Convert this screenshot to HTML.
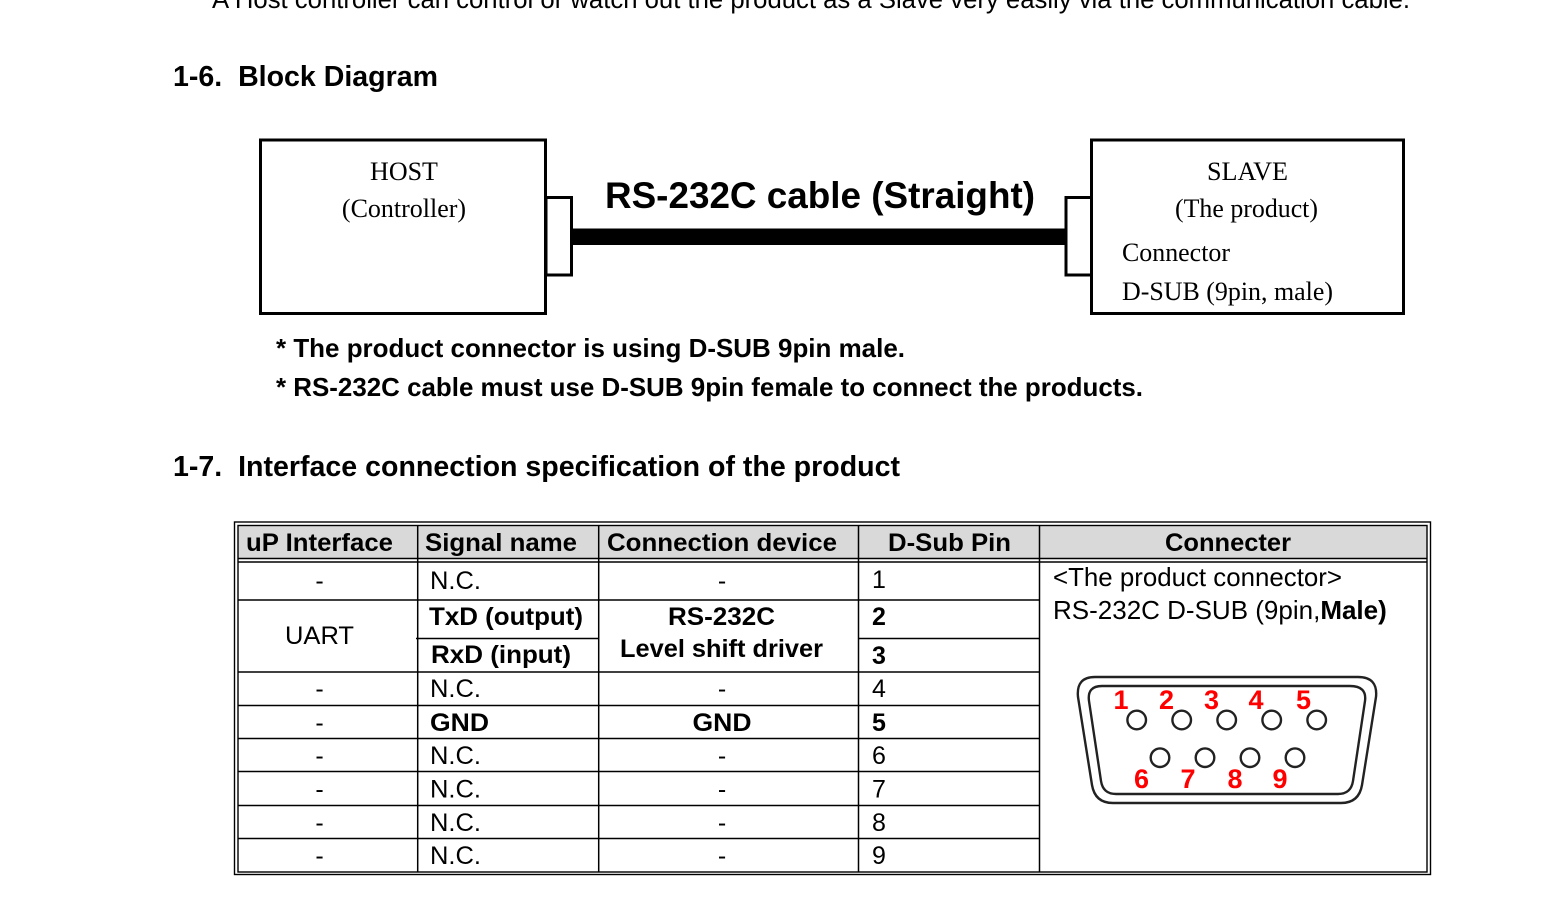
<!DOCTYPE html>
<html>
<head>
<meta charset="utf-8">
<style>
  html, body { margin:0; padding:0; background:#fff; }
  svg { display:block; }
  .sans { font-family: "Liberation Sans", Arial, sans-serif; }
  .serif { font-family: "Liberation Serif", "Times New Roman", serif; }
</style>
</head>
<body>
<svg width="1557" height="912" viewBox="0 0 1557 912" xmlns="http://www.w3.org/2000/svg">
  <rect x="0" y="0" width="1557" height="912" fill="#fff"/>

  <!-- top cut-off line -->
  <text class="sans" x="212" y="8" font-size="26" textLength="1198" lengthAdjust="spacingAndGlyphs">A Host controller can control or watch out the product as a Slave very easily via the communication cable.</text>

  <!-- Heading 1-6 -->
  <text class="sans" x="173" y="86" font-size="29" font-weight="bold" textLength="265" lengthAdjust="spacingAndGlyphs" xml:space="preserve">1-6.  Block Diagram</text>

  <!-- Block diagram -->
  <rect x="260.5" y="140" width="285" height="173.5" fill="#fff" stroke="#000" stroke-width="3"/>
  <rect x="546" y="197.5" width="25.5" height="77.5" fill="#fff" stroke="#000" stroke-width="3"/>
  <rect x="572" y="228.5" width="494" height="16.5" fill="#000"/>
  <rect x="1066" y="197.5" width="25.5" height="77.5" fill="#fff" stroke="#000" stroke-width="3"/>
  <rect x="1091.5" y="140" width="312" height="173.5" fill="#fff" stroke="#000" stroke-width="3"/>

  <text class="serif" x="404" y="180" font-size="26" text-anchor="middle">HOST</text>
  <text class="serif" x="404" y="217" font-size="26" text-anchor="middle">(Controller)</text>

  <text class="sans" x="605" y="208" font-size="37" font-weight="bold" textLength="430" lengthAdjust="spacingAndGlyphs">RS-232C cable (Straight)</text>

  <text class="serif" x="1207" y="180" font-size="26" textLength="81" lengthAdjust="spacingAndGlyphs">SLAVE</text>
  <text class="serif" x="1175" y="217" font-size="26" textLength="143" lengthAdjust="spacingAndGlyphs">(The product)</text>
  <text class="serif" x="1122" y="261" font-size="26" textLength="108" lengthAdjust="spacingAndGlyphs">Connector</text>
  <text class="serif" x="1122" y="300" font-size="26" textLength="211" lengthAdjust="spacingAndGlyphs">D-SUB (9pin, male)</text>

  <!-- Notes -->
  <text class="sans" x="276" y="357" font-size="26" font-weight="bold" textLength="629" lengthAdjust="spacingAndGlyphs">* The product connector is using D-SUB 9pin male.</text>
  <text class="sans" x="276" y="396" font-size="26" font-weight="bold" textLength="867" lengthAdjust="spacingAndGlyphs">* RS-232C cable must use D-SUB 9pin female to connect the products.</text>

  <!-- Heading 1-7 -->
  <text class="sans" x="173" y="476" font-size="29" font-weight="bold" textLength="727" lengthAdjust="spacingAndGlyphs" xml:space="preserve">1-7.  Interface connection specification of the product</text>

  <!-- Table -->
  <rect x="238" y="525.5" width="1189" height="32.5" fill="#d9d9d9"/>
  <rect x="234.5" y="522" width="1196" height="352.5" fill="none" stroke="#000" stroke-width="1.4"/>
  <rect x="238" y="525.5" width="1189" height="346.5" fill="none" stroke="#000" stroke-width="1.4"/>
  <g stroke="#000" stroke-width="1.5">
    <line x1="238" y1="558.5" x2="1427" y2="558.5"/>
    <line x1="238" y1="562" x2="1427" y2="562"/>
    <line x1="417.7" y1="525.5" x2="417.7" y2="872"/>
    <line x1="598.7" y1="525.5" x2="598.7" y2="872"/>
    <line x1="858.5" y1="525.5" x2="858.5" y2="872"/>
    <line x1="1039.5" y1="525.5" x2="1039.5" y2="872"/>
    <line x1="238" y1="600" x2="1039.5" y2="600"/>
    <line x1="416" y1="638.5" x2="598.7" y2="638.5"/>
    <line x1="858.5" y1="638.5" x2="1039.5" y2="638.5"/>
    <line x1="238" y1="672" x2="1039.5" y2="672"/>
    <line x1="238" y1="705.5" x2="1039.5" y2="705.5"/>
    <line x1="238" y1="738.5" x2="1039.5" y2="738.5"/>
    <line x1="238" y1="771.5" x2="1039.5" y2="771.5"/>
    <line x1="238" y1="805.5" x2="1039.5" y2="805.5"/>
    <line x1="238" y1="838.5" x2="1039.5" y2="838.5"/>
  </g>

  <!-- header text -->
  <g class="sans" font-size="25" font-weight="bold">
    <text x="246" y="551" textLength="147" lengthAdjust="spacingAndGlyphs">uP Interface</text>
    <text x="425" y="551" textLength="152" lengthAdjust="spacingAndGlyphs">Signal name</text>
    <text x="607" y="551" textLength="230" lengthAdjust="spacingAndGlyphs">Connection device</text>
    <text x="888" y="551" textLength="123" lengthAdjust="spacingAndGlyphs">D-Sub Pin</text>
    <text x="1165" y="551" textLength="126" lengthAdjust="spacingAndGlyphs">Connecter</text>
  </g>

  <!-- body text -->
  <g class="sans" font-size="25">
    <!-- row 1 -->
    <text x="319.5" y="589" text-anchor="middle">-</text>
    <text x="430" y="589" textLength="51" lengthAdjust="spacingAndGlyphs">N.C.</text>
    <text x="722" y="589" text-anchor="middle">-</text>
    <text x="872" y="588">1</text>

    <!-- UART -->
    <text x="285" y="644" textLength="69" lengthAdjust="spacingAndGlyphs">UART</text>
    <text x="429" y="625" font-weight="bold" textLength="154" lengthAdjust="spacingAndGlyphs">TxD (output)</text>
    <text x="431" y="663" font-weight="bold" textLength="140" lengthAdjust="spacingAndGlyphs">RxD (input)</text>
    <text x="721.5" y="625" font-weight="bold" text-anchor="middle" textLength="107" lengthAdjust="spacingAndGlyphs">RS-232C</text>
    <text x="620" y="657" font-weight="bold" textLength="203" lengthAdjust="spacingAndGlyphs">Level shift driver</text>
    <text x="872" y="625" font-weight="bold">2</text>
    <text x="872" y="664" font-weight="bold">3</text>

    <!-- row 4 -->
    <text x="319.5" y="697" text-anchor="middle">-</text>
    <text x="430" y="697" textLength="51" lengthAdjust="spacingAndGlyphs">N.C.</text>
    <text x="722" y="697" text-anchor="middle">-</text>
    <text x="872" y="697">4</text>

    <!-- row 5 -->
    <text x="319.5" y="731" text-anchor="middle">-</text>
    <text x="430" y="731" font-weight="bold" textLength="59" lengthAdjust="spacingAndGlyphs">GND</text>
    <text x="722" y="731" font-weight="bold" text-anchor="middle" textLength="59" lengthAdjust="spacingAndGlyphs">GND</text>
    <text x="872" y="731" font-weight="bold">5</text>

    <!-- row 6 -->
    <text x="319.5" y="764" text-anchor="middle">-</text>
    <text x="430" y="764" textLength="51" lengthAdjust="spacingAndGlyphs">N.C.</text>
    <text x="722" y="764" text-anchor="middle">-</text>
    <text x="872" y="764">6</text>

    <!-- row 7 -->
    <text x="319.5" y="797.5" text-anchor="middle">-</text>
    <text x="430" y="797.5" textLength="51" lengthAdjust="spacingAndGlyphs">N.C.</text>
    <text x="722" y="797.5" text-anchor="middle">-</text>
    <text x="872" y="797.5">7</text>

    <!-- row 8 -->
    <text x="319.5" y="831" text-anchor="middle">-</text>
    <text x="430" y="831" textLength="51" lengthAdjust="spacingAndGlyphs">N.C.</text>
    <text x="722" y="831" text-anchor="middle">-</text>
    <text x="872" y="831">8</text>

    <!-- row 9 -->
    <text x="319.5" y="864" text-anchor="middle">-</text>
    <text x="430" y="864" textLength="51" lengthAdjust="spacingAndGlyphs">N.C.</text>
    <text x="722" y="864" text-anchor="middle">-</text>
    <text x="872" y="864">9</text>
  </g>

  <!-- Connector column text -->
  <g class="sans" font-size="26">
    <text x="1053" y="586" textLength="289" lengthAdjust="spacingAndGlyphs">&lt;The product connector&gt;</text>
    <text x="1053" y="619">RS-232C D-SUB (9pin,<tspan font-weight="bold">Male)</tspan></text>
  </g>

  <!-- D-SUB drawing -->
  <g fill="none" stroke="#222" stroke-width="2.4">
    <path d="M 1095 677 L 1358 677 Q 1378 677 1376 697 L 1362 785 Q 1359 803 1341 803 L 1113 803 Q 1095 803 1092 785 L 1078 697 Q 1076 677 1095 677 Z"/>
    <path d="M 1102 686 L 1350 686 Q 1367 686 1365 701 L 1353 781 Q 1351 794 1338 794 L 1116 794 Q 1103 794 1101 781 L 1089 701 Q 1087 686 1102 686 Z"/>
    <circle cx="1136.7" cy="720" r="9.3"/>
    <circle cx="1181.7" cy="720" r="9.3"/>
    <circle cx="1226.7" cy="720" r="9.3"/>
    <circle cx="1271.7" cy="720" r="9.3"/>
    <circle cx="1316.7" cy="720" r="9.3"/>
    <circle cx="1160" cy="757.7" r="9.3"/>
    <circle cx="1205" cy="757.7" r="9.3"/>
    <circle cx="1250" cy="757.7" r="9.3"/>
    <circle cx="1295" cy="757.7" r="9.3"/>
  </g>
  <g class="sans" font-size="27" font-weight="bold" fill="#ff0000" text-anchor="middle">
    <text x="1121" y="709">1</text>
    <text x="1166.5" y="709">2</text>
    <text x="1211.5" y="709">3</text>
    <text x="1256" y="709">4</text>
    <text x="1303.5" y="709">5</text>
    <text x="1141.5" y="788">6</text>
    <text x="1188" y="788">7</text>
    <text x="1235" y="788">8</text>
    <text x="1280" y="788">9</text>
  </g>
</svg>
</body>
</html>
